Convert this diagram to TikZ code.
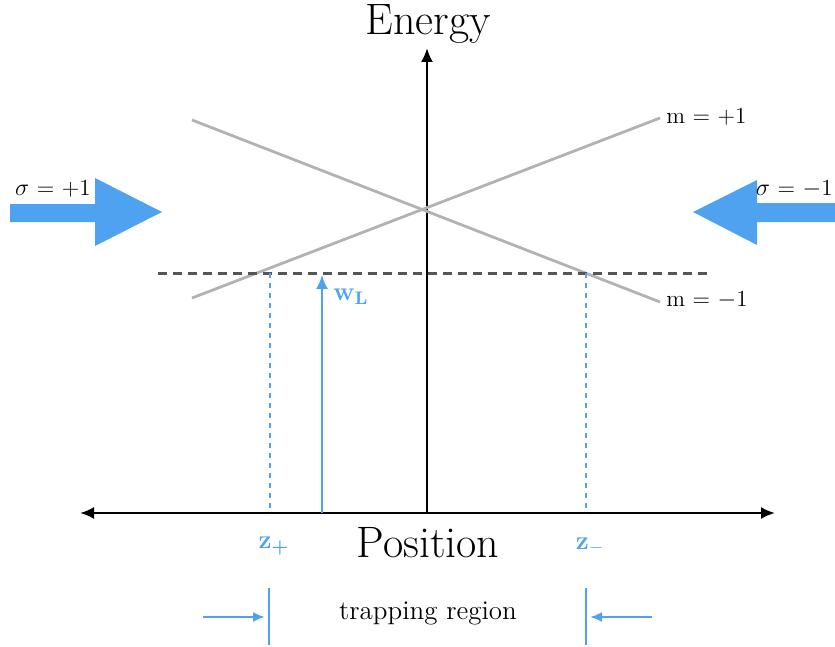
\documentclass[tikz,border=0pt]{standalone}
\usepackage{amsmath,amssymb}
\usepackage{tikz}
\usetikzlibrary{arrows.meta}
\usepackage{xcolor}
\definecolor{beamblue}{RGB}{78,162,240}
\definecolor{levelgray}{RGB}{178,178,178}
\definecolor{dashgray}{RGB}{85,85,85}

\begin{document}
\begin{tikzpicture}[x=0.5pt,y=-0.5pt,
    axis/.style={line width=1.1pt, -{Latex[length=7pt,width=6pt]}},
    level/.style={levelgray, line width=1.4pt},
    lbl/.style={font=\fontsize{11.5}{13}\selectfont, inner sep=1pt},
    big/.style={font=\fontsize{22}{26}\selectfont},
    blue lbl/.style={beamblue, font=\fontsize{13}{15}\selectfont\bfseries}]
    \useasboundingbox (0,0) rectangle (835,647);

    % Axes
    \coordinate (O) at (427,513);
    \coordinate (Etop) at (427,48);
    \coordinate (Pleft) at (80,513);
    \coordinate (Pright) at (775,513);
    \draw[axis] (O) -- (Etop);
    \draw[axis, {Latex[length=7pt,width=6pt]}-{Latex[length=7pt,width=6pt]}] (Pleft) -- (Pright);
    \node[big, inner sep=1pt] (energy) at (428,24) {Energy};
    \node[big] (position) at (428,543) {Position};

    % Zeeman levels
    \coordinate (mpA) at (192,298);
    \coordinate (mpB) at (660,118);
    \coordinate (mmA) at (192,120);
    \coordinate (mmB) at (660,302);
    \draw[level] (mpA) -- (mpB);
    \draw[level] (mmA) -- (mmB);
    \node[lbl, anchor=west] (mplus) at (664,117) {m = +1};
    \node[lbl, anchor=west] (mminus) at (664,300) {m = $-$1};

    % Laser energy
    \coordinate (dL) at (158,273);
    \coordinate (dR) at (710,273);
    \draw[dashgray, line width=1.5pt, dash pattern=on 4.5pt off 3pt] (dL) -- (dR);
    \coordinate (wbot) at (322,513);
    \coordinate (wtop) at (322,275);
    \draw[beamblue, line width=1pt, -{Latex[length=7pt,width=6pt]}] (wbot) -- (wtop);
    \node[blue lbl] (wL) at (351,297) {\textsc{w}\textsubscript{L}};

    % Resonance points
    \coordinate (zpT) at (270,273);
    \coordinate (zpB) at (270,513);
    \coordinate (zmT) at (586,273);
    \coordinate (zmB) at (586,513);
    \draw[beamblue, line width=1pt, dash pattern=on 2.5pt off 2.5pt] (zpT) -- (zpB);
    \draw[beamblue, line width=1pt, dash pattern=on 2.5pt off 2.5pt] (zmT) -- (zmB);
    \node[blue lbl] (zplus) at (274,546) {\textsc{z}\textsubscript{+}};
    \node[blue lbl] (zminus) at (590,546) {\textsc{z}\textsubscript{$-$}};

    % Laser beams
    \fill[beamblue] (10,204) -- (95,204) -- (95,178) -- (162,212) -- (95,246) -- (95,222) -- (10,222) -- cycle;
    \fill[beamblue] (835,203) -- (757,203) -- (757,180) -- (693,212) -- (757,245) -- (757,222) -- (835,222) -- cycle;
    \node[lbl] (sigp) at (53,189) {$\sigma$ = +1};
    \node[lbl, anchor=east] (sigm) at (835,189) {$\sigma$ = $-$1};

    % Trapping region
    \node[font=\fontsize{13.5}{16}\selectfont] (trap) at (428,613) {trapping region};
    \coordinate (bLT) at (269,588);
    \coordinate (bLB) at (269,645);
    \coordinate (bRT) at (586,588);
    \coordinate (bRB) at (586,645);
    \draw[beamblue, line width=1.1pt] (bLT) -- (bLB);
    \draw[beamblue, line width=1.1pt] (bRT) -- (bRB);
    \coordinate (aL) at (203,617);
    \coordinate (aLend) at (265,617);
    \coordinate (aR) at (652,617);
    \coordinate (aRend) at (590,617);
    \draw[beamblue, line width=1.1pt, -{Latex[length=6pt,width=5pt]}] (aL) -- (aLend);
    \draw[beamblue, line width=1.1pt, -{Latex[length=6pt,width=5pt]}] (aR) -- (aRend);
\end{tikzpicture}
\end{document}
